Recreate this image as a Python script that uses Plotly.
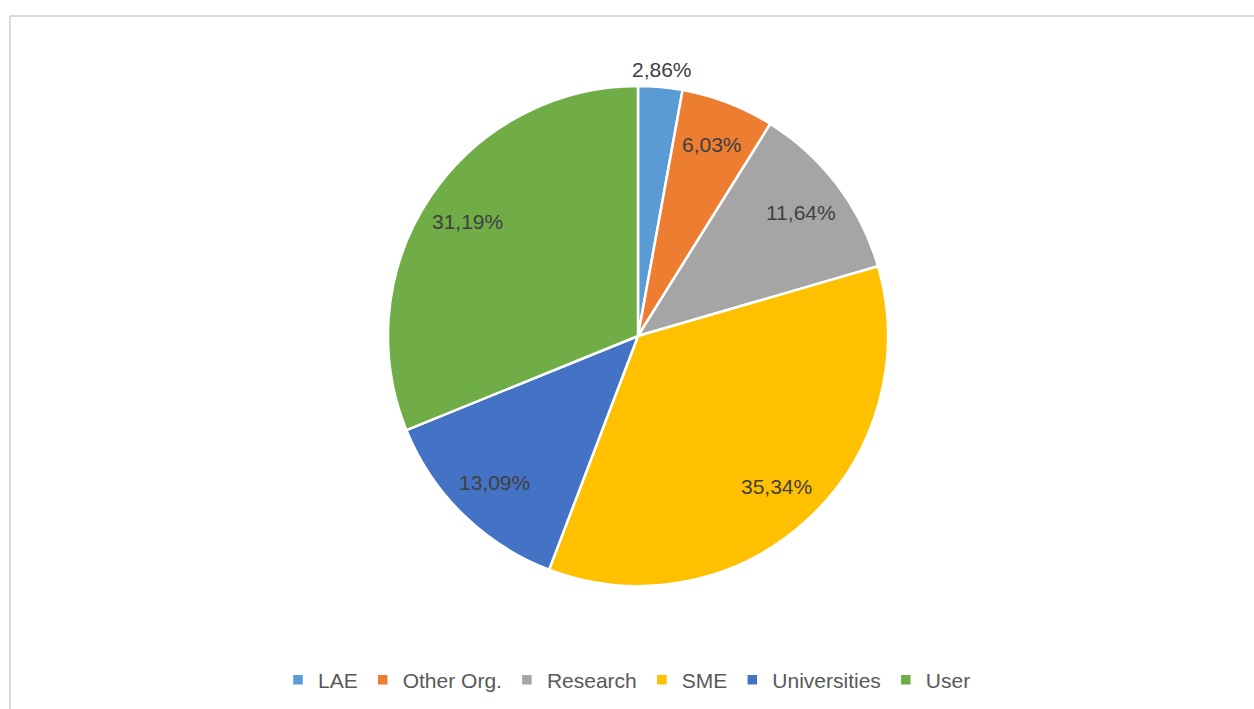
import math
import plotly.graph_objs as go

labels = ['LAE', 'Other Org.', 'Research', 'SME', 'Universities', 'User']
shares = [2.86, 6.03, 11.64, 35.34, 13.09, 31.19]
colors = ['#5B9BD5', '#ED7D31', '#A5A5A5', '#FFC000', '#4472C4', '#70AD47']

W, H = 1254, 709
CX, CY, R = 638, 336, 250   # pie centre and radius in pixels (from top-left)

texts = [f"{v:.2f}".replace('.', ',') + '%' for v in shares]

fig = go.Figure()
fig.add_trace(go.Pie(
    labels=labels, values=shares,
    textinfo='none',
    sort=False, direction='clockwise', rotation=0,
    marker=dict(colors=colors, line=dict(color='white', width=2.5)),
    hoverinfo='label+percent',
    domain=dict(x=[(CX - R) / W, (CX + R) / W], y=[(H - CY - R) / H, (H - CY + R) / H]),
))

# data labels, placed like Excel does (further out than plotly's default)
total = sum(shares)
cum = 0
for i, (v, t) in enumerate(zip(shares, texts)):
    theta = 2 * math.pi * (cum + v / 2) / total
    cum += v
    r = R * (1.07 if i == 0 else 0.82)
    px = CX + r * math.sin(theta)
    py = CY - r * math.cos(theta)
    fig.add_annotation(x=px / W, y=(H - py) / H, xref='paper', yref='paper',
                       xanchor='center', yanchor='middle',
                       text=t, showarrow=False,
                       font=dict(family='Liberation Sans, Arial', size=21, color='#404040'))

# chart area border (top and left edges visible)
fig.add_shape(type='line', xref='paper', yref='paper',
              x0=10 / W, x1=1.0, y0=(H - 16) / H, y1=(H - 16) / H,
              line=dict(color='#D9D9D9', width=2))
fig.add_shape(type='line', xref='paper', yref='paper',
              x0=10 / W, x1=10 / W, y0=0, y1=(H - 16) / H,
              line=dict(color='#D9D9D9', width=2))

fig.update_layout(
    width=W, height=H,
    margin=dict(l=0, r=0, t=0, b=0),
    paper_bgcolor='white',
    font=dict(family='Liberation Sans, Arial', color='#595959'),
    legend=dict(orientation='h', x=0.5, xanchor='center',
                y=(H - 680) / H, yanchor='middle',
                font=dict(size=21, color='#595959'),
                itemwidth=30),
)

fig.write_html("out.html", config={'displayModeBar': False},
               post_script="document.body.style.margin='0';")
